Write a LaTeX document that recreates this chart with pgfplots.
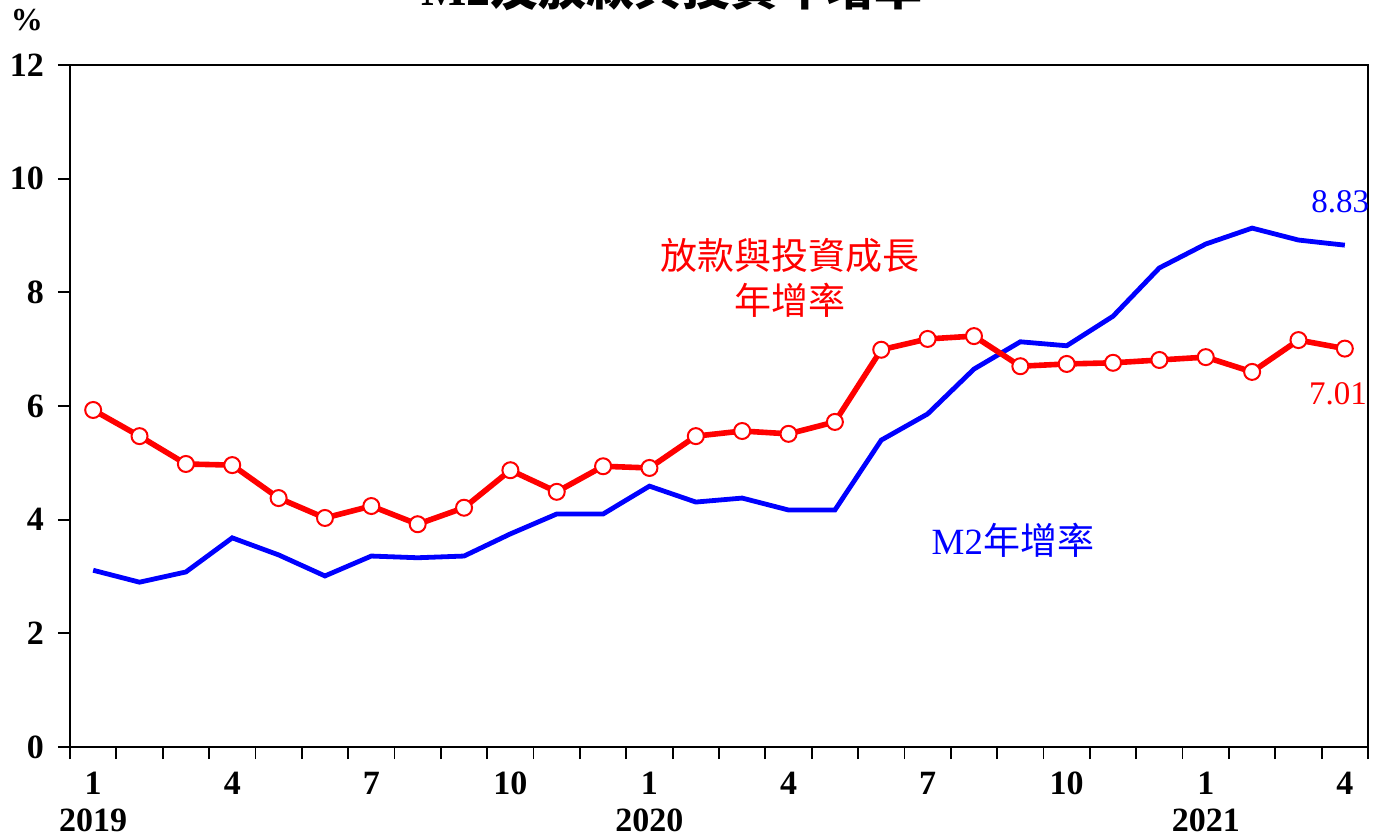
\documentclass[border=0pt]{standalone}
\usepackage{fontspec}
\setmainfont{Liberation Serif}
\newfontfamily\cjk{Noto Sans CJK TC}
\usepackage{pgfplots}
\usepackage{pgfplotstable}
\pgfplotsset{compat=1.18}

% Monthly year-on-year growth, Jan 2019 -- Apr 2021 (%)
\pgfplotstableread{
idx m2   loan
0   3.11 5.93
1   2.90 5.47
2   3.08 4.98
3   3.68 4.96
4   3.38 4.38
5   3.01 4.03
6   3.36 4.24
7   3.33 3.92
8   3.36 4.21
9   3.75 4.87
10  4.10 4.49
11  4.10 4.94
12  4.59 4.91
13  4.31 5.47
14  4.38 5.56
15  4.17 5.51
16  4.17 5.72
17  5.40 6.99
18  5.86 7.18
19  6.65 7.23
20  7.13 6.70
21  7.06 6.74
22  7.58 6.76
23  8.43 6.81
24  8.85 6.86
25  9.13 6.60
26  8.92 7.16
27  8.83 7.01
}\datatable

\begin{document}
\begin{tikzpicture}
\clip (-35pt,-45pt) rectangle (652.5pt,373.5pt);
\begin{axis}[
  at={(0,0)}, anchor=south west, scale only axis,
  width=649pt, height=341pt,
  xmin=-0.5, xmax=27.5, ymin=0, ymax=12,
  axis line style={line width=1.2pt},
  ytick={0,2,...,12},
  xtick={-0.5,0.5,...,27.5}, xticklabels={},
  tick align=outside, tick pos=left,
  major tick length=6pt,
  tick style={black, line width=0.9pt},
  extra x ticks={0,3,...,27},
  extra x tick labels={{1\\2019},4,7,10,{1\\2020},4,7,10,{1\\2021},4},
  extra x tick style={major tick length=0pt,
    tick label style={align=center, yshift=-9pt}},
  /pgf/number format/assume math mode=true,
  tick label style={font=\bfseries\fontsize{17}{18.5}\selectfont},
  yticklabel style={xshift=-3.5pt},
  clip=false,
]
\addplot[blue, line width=2.4pt] table[x=idx, y=m2] {\datatable};
\addplot[red, line width=2.8pt, mark=*, mark size=4pt,
  mark options={fill=white, draw=red, line width=1pt}] table[x=idx, y=loan] {\datatable};

\node[blue, font=\fontsize{16.5}{19}\selectfont] at (axis cs:26.9,9.59) {8.83};
\node[red, font=\fontsize{16.5}{19}\selectfont] at (axis cs:26.85,6.21) {7.01};
\node[red, font=\cjk\fontsize{18.5}{22.5}\selectfont, align=center]
  at (axis cs:15.03,8.25) {放款與投資成長\\年增率};
\node[blue, font=\fontsize{18.5}{22}\selectfont] at (axis cs:19.84,3.64) {M2{\cjk 年增率}};
\end{axis}
\node[font=\bfseries\fontsize{16}{19}\selectfont] at (-21.5pt,363.5pt) {\%};
\node[anchor=base, font=\bfseries\fontsize{24}{24}\selectfont] at (301pt,370.5pt)
  {M2{\cjk 及放款與投資年增率}};
\end{tikzpicture}
\end{document}
